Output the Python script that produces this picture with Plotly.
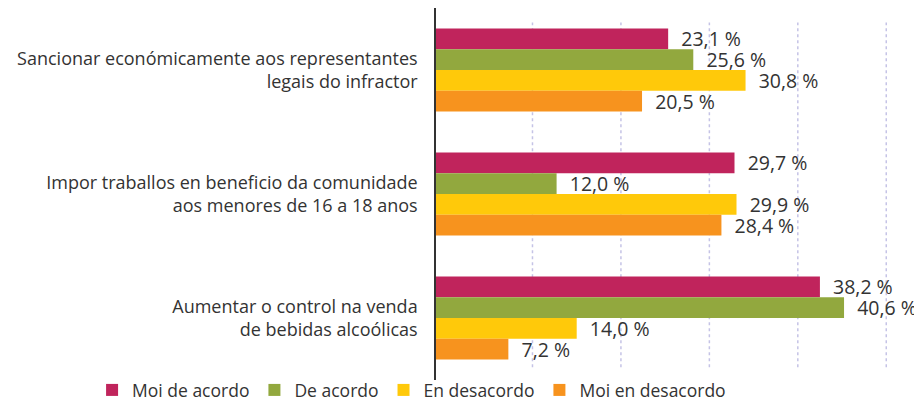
import plotly.graph_objects as go

categories = [
    "Sancionar económicamente aos representantes<br>legais do infractor",
    "Impor traballos en beneficio da comunidade<br>aos menores de 16 a 18 anos",
    "Aumentar o control na venda<br>de bebidas alcoólicas",
]
series_names = ["Moi de acordo", "De acordo", "En desacordo", "Moi en desacordo"]
moi_de_acordo = [23.1, 29.7, 38.2]
de_acordo = [25.6, 12.0, 40.6]
en_desacordo = [30.8, 29.9, 14.0]
moi_en_desacordo = [20.5, 28.4, 7.2]
colors = ["#C0245C", "#92A83E", "#FFC90A", "#F7931E"]
grid_positions = [9.6, 18.4, 27.2, 36.0, 44.8]

values = [moi_de_acordo, de_acordo, en_desacordo, moi_en_desacordo]

FONT = "Open Sans"
TXT = "#333333"

fig = go.Figure()
for name, vals, col in zip(series_names, values, colors):
    fig.add_trace(go.Bar(
        name=name,
        y=categories,
        x=vals,
        orientation="h",
        marker=dict(color=col, line=dict(width=0)),
        text=["\u00a0\u00a0" + f"{v:.1f}".replace(".", ",") + " %" for v in vals],
        textposition="outside",
        constraintext="none",
        textfont=dict(family=FONT, size=19.5, color=TXT),
        cliponaxis=False,
        hoverinfo="skip",
    ))

# dotted vertical gridlines that stop short of the plot edges
for gx in grid_positions:
    fig.add_shape(
        type="line", xref="x", yref="paper",
        x0=gx, x1=gx, y0=0.034, y1=0.961,
        line=dict(color="#C5C3E6", width=1.5, dash="dot"),
        layer="below",
    )

# page body adds an 8px offset, so the figure is 914x397
fig.update_layout(
    width=914, height=397,
    margin=dict(l=428, r=7, t=0, b=25, autoexpand=False),
    paper_bgcolor="white", plot_bgcolor="white",
    barmode="group", bargap=0.33, bargroupgap=0,
    font=dict(family=FONT, size=18, color=TXT),
    showlegend=True,
    legend=dict(
        orientation="h",
        x=-0.718, xanchor="left", y=-0.027, yanchor="middle",
        font=dict(family=FONT, size=17.5, color=TXT),
        itemwidth=30, tracegroupgap=0, bgcolor="rgba(0,0,0,0)",
    ),
    uniformtext=dict(mode=False),
)
fig.update_xaxes(
    range=[0, 47.66], showticklabels=False, ticks="",
    showgrid=False, zeroline=False, showline=False, automargin=False,
)
fig.update_yaxes(
    range=[2.5, -0.5], showline=True, linecolor="#333333", linewidth=1.5,
    ticks="", showgrid=False, ticklabelstandoff=13, automargin=False,
    tickfont=dict(family=FONT, size=18, color=TXT),
)

fig.write_html("out.html")
